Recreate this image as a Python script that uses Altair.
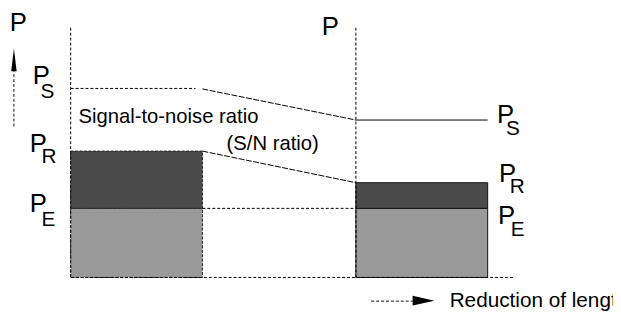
import altair as alt
import pandas as pd

# Diagram units: x = length position, y = power level (0 = baseline)
FONT = "Liberation Sans"

# Power levels
level_names = ["P_S", "P_R", "P_E"]
left_levels = [19.15, 12.8, 7.0]
right_levels = [15.95, 9.6, 7.0]

# Length positions
left_bar = [0.0, 13.35]
right_bar = [28.9, 42.25]
axis_top = 25.5
base_end = 44.85
ps_dash_end = 12.65

# Bars (segments: lower light = P_E, upper dark = P_R - P_E)
bars = pd.DataFrame({
    "x": [left_bar[0], left_bar[0], right_bar[0], right_bar[0]],
    "x2": [left_bar[1], left_bar[1], right_bar[1], right_bar[1]],
    "y": [0.0, left_levels[2], 0.0, right_levels[2]],
    "y2": [left_levels[2], left_levels[1], right_levels[2], right_levels[1]],
    "fill": ["#9a9a9a", "#4b4b4b", "#9a9a9a", "#4b4b4b"],
    "side": ["left", "left", "right", "right"],
})

# Line segments
seg_x = [0.0, right_bar[0], 0.0, left_bar[1], 0.0, right_bar[0], left_bar[1], left_bar[1]]
seg_x2 = [0.0, right_bar[0], ps_dash_end, right_bar[0], base_end, right_bar[1], right_bar[0], right_bar[0]]
seg_y = [0.0, 0.0, left_levels[0], right_levels[2], 0.0, right_levels[0], 19.1, left_levels[1]]
seg_y2 = [axis_top, axis_top, left_levels[0], left_levels[2], 0.0, right_levels[0], right_levels[0], right_levels[1]]
seg_style = ["dash", "dash", "dash", "dash", "dash", "solid", "fine", "fine"]
segs = pd.DataFrame({"x": seg_x, "x2": seg_x2, "y": seg_y, "y2": seg_y2, "style": seg_style})

# Arrows (shafts and heads)
arrow_shafts = pd.DataFrame({
    "x": [-5.75, 30.45], "x2": [-5.75, 34.65],
    "y": [15.3, -2.4], "y2": [20.9, -2.4],
})
arrow_heads = pd.DataFrame({"x": [-5.75, 35.75], "y": [22.05, -2.35], "dir": ["up", "right"]})

# Text labels
big_p = pd.DataFrame({"text": ["P", "P"], "x": [-5.3, 26.3], "y": [25.0, 24.6]})
p_main = pd.DataFrame({
    "text": ["P", "P", "P", "P", "P", "P"],
    "x": [-3.85, -4.15, -4.15, 43.2, 43.4, 43.3],
    "y": [19.6, 12.7, 6.6, 15.7, 9.7, 5.4],
})
p_sub = pd.DataFrame({
    "text": ["S", "R", "E", "S", "R", "E"],
    "x": [-3.05, -2.95, -2.95, 44.1, 44.5, 44.6],
    "y": [18.2, 11.6, 5.2, 14.4, 8.6, 4.2],
})
notes = pd.DataFrame({
    "text": ["Signal-to-noise ratio", "(S/N ratio)", "Reduction of length"],
    "x": [0.8, 15.8, 38.4],
    "y": [15.6, 12.9, -3.0],
    "size": [20.5, 20.5, 21],
})

xs = alt.Scale(domain=[-6.35, 54.95], nice=False, zero=False)
ys = alt.Scale(domain=[-3.4, 27.1], nice=False, zero=False)
X = lambda f="x": alt.X(f"{f}:Q", scale=xs, axis=None)
Y = lambda f="y": alt.Y(f"{f}:Q", scale=ys, axis=None)

rect_left = alt.Chart(bars).transform_filter("datum.side == 'left'").mark_rect(
    stroke="#222", strokeWidth=1, strokeDash=[3, 1.5]
).encode(x=X(), x2="x2:Q", y=Y(), y2="y2:Q", fill=alt.Fill("fill:N", scale=None))
rect_right = alt.Chart(bars).transform_filter("datum.side == 'right'").mark_rect(
    stroke="#111", strokeWidth=1
).encode(x=X(), x2="x2:Q", y=Y(), y2="y2:Q", fill=alt.Fill("fill:N", scale=None))

def seg_layer(style, **kw):
    return alt.Chart(segs).transform_filter(f"datum.style == '{style}'").mark_rule(
        color="#000", strokeWidth=1, **kw
    ).encode(x=X(), x2="x2:Q", y=Y(), y2="y2:Q")

dash = seg_layer("dash", strokeDash=[3, 2])
fine = seg_layer("fine", strokeDash=[6, 1.5])
solid = seg_layer("solid")

shafts = alt.Chart(arrow_shafts).mark_rule(color="#111", strokeWidth=1, strokeDash=[3, 2]).encode(
    x=X(), x2="x2:Q", y=Y(), y2="y2:Q")
head_up = alt.Chart(arrow_heads).transform_filter("datum.dir == 'up'").mark_point(
    shape="M0,-1L0.24,1L-0.24,1Z", size=529, filled=True, color="#000", opacity=1
).encode(x=X(), y=Y())
head_right = alt.Chart(arrow_heads).transform_filter("datum.dir == 'right'").mark_point(
    shape="M1,0L-1,-0.45L-1,0.45Z", size=484, filled=True, color="#000", opacity=1
).encode(x=X(), y=Y())

t_big = alt.Chart(big_p).mark_text(font=FONT, fontSize=26, align="center", baseline="alphabetic",
                                   color="#000").encode(x=X(), y=Y(), text="text:N")
t_p = alt.Chart(p_main).mark_text(font=FONT, fontSize=26, align="left", baseline="alphabetic",
                                  color="#000").encode(x=X(), y=Y(), text="text:N")
t_sub = alt.Chart(p_sub).mark_text(font=FONT, fontSize=21, align="left", baseline="alphabetic",
                                   color="#000").encode(x=X(), y=Y(), text="text:N")
t_notes = alt.Chart(notes).mark_text(font=FONT, align="left", baseline="alphabetic",
                                     color="#000").encode(
    x=X(), y=Y(), text="text:N", size=alt.Size("size:Q", scale=None))

chart = alt.layer(
    rect_left, rect_right, dash, fine, solid, shafts, head_up, head_right,
    t_big, t_p, t_sub, t_notes
).properties(
    width=613, height=305, autosize=alt.AutoSizeParams(type="none"), padding=0,
    background="white"
).configure_view(stroke=None)

chart.save("out.html", embed_options={"renderer": "svg", "actions": False})
